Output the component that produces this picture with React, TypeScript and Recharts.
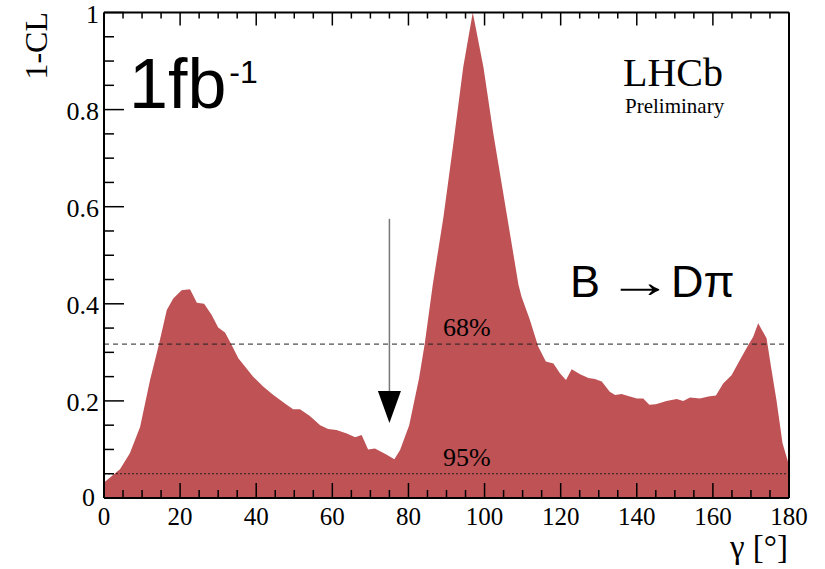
import React from "react";
import {
  AreaChart,
  Area,
  XAxis,
  YAxis,
  ReferenceLine,
  ReferenceDot,
} from "recharts";

// gamma [deg]
const gammaValues: number[] = [
  0, 4.2, 6.8, 9.5, 12.1, 14.3, 16.5, 18.2, 20.4, 22.6,
  24.4, 26.3, 28.3, 30.0, 31.8, 33.1, 35.3, 39.2, 41.9, 44.5,
  48.0, 49.7, 51.5, 54.1, 56.8, 58.9, 61.1, 63.8, 66.0, 67.7,
  69.4, 71.2, 74.3, 76.3, 77.8, 80.2, 82.8, 84.3, 86.4, 89.2,
  91.8, 94.4, 96.9, 99.7, 102.3, 105.8, 108.9, 109.7, 111.9, 114.1,
  116.1, 118.1, 119.8, 121.4, 122.9, 125.1, 127.3, 129.0, 130.8, 132.9,
  134.3, 136.0, 138.2, 140.0, 141.7, 143.3, 145.0, 147.8, 150.5, 152.2,
  154.0, 156.6, 158.8, 160.8, 162.7, 164.9, 167.1, 169.3, 170.6, 171.9,
  174.1, 175.4, 176.7, 178.3, 180,
];

// 1-CL
const clValues: number[] = [
  0.032, 0.059, 0.092, 0.147, 0.243, 0.312, 0.387, 0.411, 0.428, 0.430,
  0.402, 0.400, 0.377, 0.351, 0.341, 0.322, 0.288, 0.250, 0.229, 0.212,
  0.192, 0.183, 0.183, 0.169, 0.150, 0.142, 0.140, 0.133, 0.125, 0.130,
  0.100, 0.102, 0.089, 0.080, 0.099, 0.150, 0.247, 0.319, 0.440, 0.579,
  0.730, 0.888, 1.0, 0.888, 0.751, 0.586, 0.440, 0.415, 0.367, 0.312,
  0.281, 0.277, 0.257, 0.243, 0.265, 0.255, 0.247, 0.245, 0.240, 0.219,
  0.212, 0.214, 0.209, 0.205, 0.205, 0.192, 0.193, 0.200, 0.204, 0.200,
  0.207, 0.205, 0.209, 0.211, 0.236, 0.253, 0.284, 0.315, 0.332, 0.360,
  0.329, 0.264, 0.202, 0.113, 0.068,
];

const xTicks: number[] = [
  0, 5, 10, 15, 20, 25, 30, 35, 40, 45, 50, 55, 60, 65, 70, 75, 80, 85, 90,
  95, 100, 105, 110, 115, 120, 125, 130, 135, 140, 145, 150, 155, 160, 165,
  170, 175, 180,
];
const yTicks: number[] = [
  0, 0.05, 0.1, 0.15, 0.2, 0.25, 0.3, 0.35, 0.4, 0.45, 0.5, 0.55, 0.6, 0.65,
  0.7, 0.75, 0.8, 0.85, 0.9, 0.95, 1,
];

const cl68 = 0.317;
const cl95 = 0.05;
const arrowGamma = 75;
const arrowTop = 0.575;
const arrowHeadTop = 0.22;
const arrowTip = 0.1545;

const data = gammaValues.map((g, i) => ({ g, cl: clValues[i] }));

const SERIF = "'Liberation Serif', 'DejaVu Serif', serif";
const SANS = "'Liberation Sans', Arial, sans-serif";
const FILL = "#BE5255";

const isMajorX = (v: number) => Math.abs(v % 20) < 1e-6;
const isMajorY = (v: number) => Math.abs(v * 5 - Math.round(v * 5)) < 1e-6;
const fmtY = (v: number) => (v === 0 ? "0" : v === 1 ? "1" : v.toFixed(1));

// With tickSize=0 and tickMargin=0 the tick anchor sits on the axis line.
const BottomTick = (props: any) => {
  const { x, y, payload } = props;
  const v = payload.value as number;
  const major = isMajorX(v);
  return (
    <g>
      <line x1={x} x2={x} y1={y} y2={y - (major ? 15 : 8)} stroke="#000" strokeWidth={1.5} />
      {major && (
        <text x={x} y={y + 27} textAnchor="middle" fontFamily={SERIF} fontSize={25} fill="#000">
          {v}
        </text>
      )}
    </g>
  );
};

const TopTick = (props: any) => {
  const { x, y, payload } = props;
  const major = isMajorX(payload.value);
  return <line x1={x} x2={x} y1={y} y2={y + (major ? 13 : 6)} stroke="#000" strokeWidth={1.5} />;
};

const LeftTick = (props: any) => {
  const { x, y, payload } = props;
  const v = payload.value as number;
  const major = isMajorY(v);
  return (
    <g>
      <line x1={x} x2={x + (major ? 20 : 10)} y1={y} y2={y} stroke="#000" strokeWidth={1.5} />
      {major && (
        <text x={x - (v === 0 ? 9 : 5)} y={y + (v === 0 ? 8 : 10)} textAnchor="end" fontFamily={SERIF} fontSize={26} fill="#000">
          {fmtY(v)}
        </text>
      )}
    </g>
  );
};

const RightTick = (props: any) => {
  const { x, y, payload } = props;
  const major = isMajorY(payload.value);
  return <line x1={x} x2={x - (major ? 21 : 10)} y1={y} y2={y} stroke="#000" strokeWidth={1.5} />;
};

const ArrowHead = (props: any) => {
  const { cx, cy } = props;
  return (
    <polygon
      points={`${cx},${cy} ${cx - 11.5},${cy - 32} ${cx + 11.5},${cy - 32}`}
      fill="#000"
    />
  );
};

export default function App() {
  return (
    <div style={{ position: "absolute", left: 0, top: 0, width: 825, height: 569, background: "#fff" }}>
      <AreaChart
        width={825}
        height={569}
        data={data}
        margin={{ top: 2.5, right: 26, bottom: 31, left: 44 }}
      >
        <XAxis
          dataKey="g"
          type="number"
          domain={[0, 180]}
          ticks={xTicks}
          interval={0}
          height={40}
          tickSize={0}
          tickMargin={0}
          tickLine={false}
          tick={<BottomTick />}
          axisLine={{ stroke: "#000", strokeWidth: 2 }}
        />
        <XAxis
          xAxisId="top"
          orientation="top"
          dataKey="g"
          type="number"
          domain={[0, 180]}
          ticks={xTicks}
          interval={0}
          height={10}
          tickSize={0}
          tickMargin={0}
          tickLine={false}
          tick={<TopTick />}
          axisLine={{ stroke: "#000", strokeWidth: 2 }}
        />
        <YAxis
          type="number"
          domain={[0, 1]}
          ticks={yTicks}
          interval={0}
          width={60}
          tickSize={0}
          tickMargin={0}
          tickLine={false}
          tick={<LeftTick />}
          axisLine={{ stroke: "#000", strokeWidth: 2 }}
        />
        <YAxis
          yAxisId="right"
          orientation="right"
          type="number"
          domain={[0, 1]}
          ticks={yTicks}
          interval={0}
          width={10}
          tickSize={0}
          tickMargin={0}
          tickLine={false}
          tick={<RightTick />}
          axisLine={{ stroke: "#000", strokeWidth: 2 }}
        />
        <Area
          type="linear"
          dataKey="cl"
          fill={FILL}
          fillOpacity={1}
          stroke="none"
          dot={false}
          activeDot={false}
          isAnimationActive={false}
        />
        <ReferenceLine y={cl68} stroke="#222" strokeWidth={1} strokeDasharray="5 4" />
        <ReferenceLine y={cl95} stroke="#222" strokeWidth={1.2} strokeDasharray="2 2" />
        <ReferenceLine
          segment={[
            { x: arrowGamma, y: arrowTop },
            { x: arrowGamma, y: arrowHeadTop },
          ]}
          stroke="#777"
          strokeWidth={1.5}
        />
        <ReferenceDot x={arrowGamma} y={arrowTip} r={1} shape={<ArrowHead />} />
      </AreaChart>
      <svg
        width={825}
        height={569}
        style={{ position: "absolute", left: 0, top: 0, pointerEvents: "none" }}
      >
        <text transform="translate(47,12) rotate(-90)" textAnchor="end" fontFamily={SERIF} fontSize={32} fill="#000">
          1-CL
        </text>
        <text x={788} y={558} textAnchor="end" fontFamily={SERIF} fontSize={33} fill="#000">
          γ [°]
        </text>
        <text x={129} y={108} fontFamily={SANS} fontSize={70} fill="#000">
          1fb<tspan fontSize={32} dx={3} dy={-25}>-1</tspan>
        </text>
        <text x={623} y={86} fontFamily={SERIF} fontSize={40} fill="#000">
          LHCb
        </text>
        <text x={625} y={113} fontFamily={SERIF} fontSize={21} fill="#000">
          Preliminary
        </text>
        <text x={570} y={297} fontFamily={SANS} fontSize={45} fill="#000">
          B
        </text>
        <text transform="translate(640,297) scale(1.45,1)" textAnchor="middle" fontFamily={SANS} fontSize={45} fill="#000">
          →
        </text>
        <text x={671} y={297} fontFamily={SANS} fontSize={45} fill="#000">
          Dπ
        </text>
        <text x={443} y={336} fontFamily={SERIF} fontSize={26} fill="#000">
          68%
        </text>
        <text x={443} y={466} fontFamily={SERIF} fontSize={26} fill="#000">
          95%
        </text>
      </svg>
    </div>
  );
}
